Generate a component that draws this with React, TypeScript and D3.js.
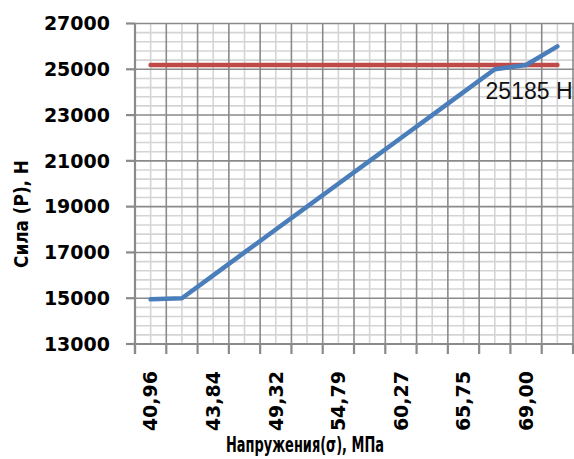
import React from 'react';
import * as d3 from 'd3';

const categories = ['40,96', '41,10', '43,84', '46,58', '49,32', '52,05', '54,79', '57,53', '60,27', '63,01', '65,75', '68,49', '69,00', '71,23'];
const forceValues = [14950, 15000, 16000, 17000, 18000, 19000, 20000, 21000, 22000, 23000, 24000, 25000, 25185, 26000];
const limitValues = [25185, 25185, 25185, 25185, 25185, 25185, 25185, 25185, 25185, 25185, 25185, 25185, 25185, 25185];
const yTicks = [13000, 15000, 17000, 19000, 21000, 23000, 25000, 27000];
const shownLabels = ['40,96', '43,84', '49,32', '54,79', '60,27', '65,75', '69,00'];
const limitLabel = '25185 Н';
const limitLabelIndex = 12;
const yTitle = 'Сила (Р), Н';
const xTitle = 'Напружения(σ), МПа';

const W = 574;
const H = 459;
const left = 135;
const right = 573;
const top = 23.5;
const bottom = 344;

export default function App() {
  const x = d3.scaleBand<string>().domain(categories).range([left, right]).padding(0);
  const y = d3.scaleLinear().domain([13000, 27000]).range([bottom, top]);
  const bw = x.bandwidth();
  const cx = (c: string) => (x(c) as number) + bw / 2;

  const minorY = d3.range(13000, 27001, 400).filter((v) => !yTicks.includes(v));
  const boundaries = categories.map((c) => x(c) as number).concat([right]);

  const line = d3
    .line<number>()
    .x((_, i) => cx(categories[i]))
    .y((d) => y(d));

  const minorColor = '#d4d4d4';
  const majorColor = '#8a8a8a';
  const tickFont = "'DejaVu Sans', sans-serif";

  return (
    <svg width={W} height={H} style={{ position: 'absolute', left: 0, top: 0, background: '#fff' }}>
      {minorY.map((v) => (
        <line key={'mh' + v} x1={left} x2={W} y1={y(v)} y2={y(v)} stroke={minorColor} strokeWidth={1.6} />
      ))}
      {categories.map((c) => (
        <line key={'mv' + c} x1={cx(c)} x2={cx(c)} y1={top} y2={bottom} stroke={minorColor} strokeWidth={1.6} />
      ))}
      {yTicks.map((v) => (
        <line key={'Mh' + v} x1={left} x2={W} y1={y(v)} y2={y(v)} stroke={majorColor} strokeWidth={1.6} />
      ))}
      {boundaries.map((b, i) => (
        <line key={'Mv' + i} x1={b} x2={b} y1={top} y2={bottom} stroke={majorColor} strokeWidth={1.6} />
      ))}
      <line x1={left} x2={left} y1={top} y2={bottom + 10} stroke={majorColor} strokeWidth={2.2} />
      <line x1={left - 9} x2={right} y1={bottom} y2={bottom} stroke={majorColor} strokeWidth={2.2} />
      {yTicks.map((v) => (
        <line key={'yt' + v} x1={left - 9} x2={left} y1={y(v)} y2={y(v)} stroke={majorColor} strokeWidth={2.2} />
      ))}
      {boundaries.map((b, i) => (
        <line key={'xt' + i} x1={b} x2={b} y1={bottom} y2={bottom + 10} stroke={majorColor} strokeWidth={2.2} />
      ))}
      {yTicks.map((v) => (
        <text
          key={'yl' + v}
          x={110}
          y={y(v)}
          dy="0.36em"
          textAnchor="end"
          fontFamily={tickFont}
          fontWeight="bold"
          fontSize={19}
          fill="#000"
        >
          {v}
        </text>
      ))}
      {shownLabels.map((c) => (
        <text
          key={'xl' + c}
          transform={`translate(${cx(c)},371) rotate(-90)`}
          dy="0.36em"
          textAnchor="end"
          fontFamily={tickFont}
          fontWeight="bold"
          fontSize={19}
          fill="#000"
        >
          {c}
        </text>
      ))}
      <path d={line(limitValues) || ''} fill="none" stroke="#be4b48" strokeWidth={4.5} strokeLinejoin="round" strokeLinecap="round" />
      <path d={line(forceValues) || ''} fill="none" stroke="#4a7ebb" strokeWidth={4.5} strokeLinejoin="round" strokeLinecap="round" />
      <text
        x={cx(categories[limitLabelIndex]) + 3}
        y={y(limitValues[limitLabelIndex]) + 34}
        textAnchor="middle"
        fontFamily="'Liberation Sans', sans-serif"
        fontSize={23}
        fill="#111"
      >
        {limitLabel}
      </text>
      <text
        transform={`translate(28,214) rotate(-90)`}
        textAnchor="middle"
        fontFamily={tickFont}
        fontWeight="bold"
        fontSize={20}
        textLength={108}
        lengthAdjust="spacingAndGlyphs"
        fill="#000"
      >
        {yTitle}
      </text>
      <text
        x={305}
        y={452}
        textAnchor="middle"
        fontFamily={tickFont}
        fontWeight="bold"
        fontSize={22}
        textLength={158}
        lengthAdjust="spacingAndGlyphs"
        fill="#000"
      >
        {xTitle}
      </text>
    </svg>
  );
}
